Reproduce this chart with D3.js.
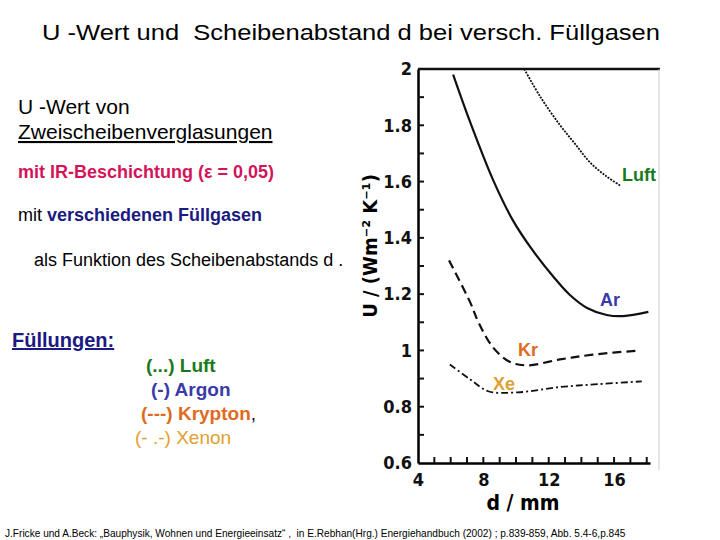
<!DOCTYPE html>
<html>
<head>
<meta charset="utf-8">
<script src="https://cdn.jsdelivr.net/npm/d3@7"></script>
<style>
body { margin: 0; background: #fff; }
svg text { font-family: Arial, "Liberation Sans", sans-serif; white-space: pre; }
.ax text { font-family: "DejaVu Sans Condensed", "Liberation Sans Narrow", sans-serif; font-weight: bold; }
</style>
</head>
<body>
<div id="chart"></div>
<script>
var width = 720,
	height = 540;

// d in mm, U in W/(m2 K)
var luft_d = [10.5, 11.5, 12.7, 13.6, 14.5, 15.5, 16.4],
	luft_u = [2.0, 1.9, 1.8, 1.735, 1.67, 1.62, 1.585];
var argon_d = [6.15, 7.2, 8.6, 9.8, 11.0, 12.3, 13.3, 14.35, 15.55, 16.55, 18.1],
	argon_u = [1.98, 1.81, 1.605, 1.463, 1.357, 1.261, 1.197, 1.151, 1.126, 1.122, 1.137];
var krypton_d = [5.9, 7.2, 7.7, 8.6, 9.6, 10.65, 12.7, 14.7, 17.6],
	krypton_u = [1.32, 1.17, 1.10, 1.01, 0.96, 0.947, 0.968, 0.985, 1.0];
var xenon_d = [5.95, 7.2, 8.3, 10.1, 12.7, 15.0, 17.7],
	xenon_u = [0.95, 0.897, 0.855, 0.851, 0.87, 0.88, 0.89];

var x_ticks = [4, 8, 12, 16],
	y_ticks = [0.6, 0.8, 1, 1.2, 1.4, 1.6, 1.8, 2];

var svg = d3.select("#chart").append("svg")
	.attr("width", width)
	.attr("height", height);

var x = d3.scaleLinear().domain([4, 18.2]).range([418, 650]);
var y = d3.scaleLinear().domain([0.6, 2]).range([463, 69]);

// frame lines
svg.append("line").attr("x1", 418).attr("x2", 660).attr("y1", y(2)).attr("y2", y(2))
	.attr("stroke", "#111").attr("stroke-width", 2.5);
svg.append("line").attr("x1", 659).attr("x2", 659).attr("y1", y(2)).attr("y2", 470)
	.attr("stroke", "#ccc").attr("stroke-width", 1);

var xAxis = svg.append("g").attr("class", "ax")
	.attr("transform", "translate(0," + y(0.6) + ")")
	.call(d3.axisBottom(x).tickValues(x_ticks).tickSize(0).tickPadding(10).tickFormat(d3.format("d")));
xAxis.select(".domain").attr("stroke-width", 2.5);
xAxis.selectAll("text").attr("font-size", 18).attr("fill", "#111");

// minor ticks every mm, inward
svg.append("g").selectAll("line")
	.data(d3.range(5, 19))
	.enter().append("line")
	.attr("x1", function(d) { return x(d); })
	.attr("x2", function(d) { return x(d); })
	.attr("y1", y(0.6))
	.attr("y2", y(0.6) - 6)
	.attr("stroke", "#111").attr("stroke-width", 2);

var yAxis = svg.append("g").attr("class", "ax")
	.attr("transform", "translate(" + x(4) + ",0)")
	.call(d3.axisLeft(y).tickValues(y_ticks).tickSize(0).tickPadding(6).tickFormat(function(d) { return d3.format("")(d); }));
yAxis.select(".domain").attr("stroke-width", 2.5);
yAxis.selectAll("text").attr("font-size", 18).attr("fill", "#111");

svg.append("g").selectAll("line")
	.data(d3.range(0.7, 2.0, 0.1))
	.enter().append("line")
	.attr("x1", x(4))
	.attr("x2", x(4) + 6)
	.attr("y1", function(d) { return y(d); })
	.attr("y2", function(d) { return y(d); })
	.attr("stroke", "#111").attr("stroke-width", 2);

// axis titles
svg.append("text")
	.attr("transform", "translate(377,246) rotate(-90)")
	.attr("text-anchor", "middle")
	.attr("font-size", 20).attr("font-weight", "bold")
	.style("font-family", "'DejaVu Sans Condensed', sans-serif")
	.text("U / (Wm⁻² K⁻¹)");
svg.append("text")
	.attr("x", 523).attr("y", 510)
	.attr("text-anchor", "middle")
	.attr("font-size", 21).attr("font-weight", "bold")
	.style("font-family", "'DejaVu Sans Condensed', sans-serif")
	.text("d / mm");

var line = d3.line()
	.x(function(d) { return x(d[0]); })
	.y(function(d) { return y(d[1]); })
	.curve(d3.curveCatmullRom);

var series = [
	{ d: luft_d, u: luft_u, dash: "2,1.2", w: 1.8 },
	{ d: argon_d, u: argon_u, dash: null, w: 2.2 },
	{ d: krypton_d, u: krypton_u, dash: "9,5", w: 2.2 },
	{ d: xenon_d, u: xenon_u, dash: "7,3,2,3", w: 1.8 }
];

svg.append("g").selectAll("path")
	.data(series)
	.enter().append("path")
	.attr("d", function(s) { return line(d3.zip(s.d, s.u)); })
	.attr("fill", "none")
	.attr("stroke", "#111")
	.attr("stroke-width", function(s) { return s.w; })
	.attr("stroke-dasharray", function(s) { return s.dash; });

// curve labels
var labels = [
	["Luft", 622, 181, "#1a7a1a"],
	["Ar", 600, 306, "#3a3aa8"],
	["Kr", 518, 356, "#e06a20"],
	["Xe", 493, 390, "#e0a030"]
];
svg.append("g").selectAll("text")
	.data(labels)
	.enter().append("text")
	.attr("x", function(d) { return d[1]; })
	.attr("y", function(d) { return d[2]; })
	.attr("fill", function(d) { return d[3]; })
	.attr("font-size", 18).attr("font-weight", "bold")
	.text(function(d) { return d[0]; });

// title and left text block
svg.append("text").attr("x", 42).attr("y", 40)
	.attr("font-size", 22).attr("textLength", 618).attr("lengthAdjust", "spacingAndGlyphs")
	.text("U -Wert und  Scheibenabstand d bei versch. Füllgasen");

svg.append("text").attr("x", 18).attr("y", 114).attr("font-size", 21).text("U -Wert von");
svg.append("text").attr("x", 18).attr("y", 139).attr("font-size", 21)
	.attr("text-decoration", "underline").text("Zweischeibenverglasungen");
svg.append("text").attr("x", 18).attr("y", 178).attr("font-size", 18).attr("font-weight", "bold")
	.attr("fill", "#d4145a").text("mit IR-Beschichtung (ε = 0,05)");
var t = svg.append("text").attr("x", 18).attr("y", 221).attr("font-size", 18);
t.append("tspan").text("mit ");
t.append("tspan").attr("font-weight", "bold").attr("fill", "#1a1a80").text("verschiedenen Füllgasen");
svg.append("text").attr("x", 34).attr("y", 266).attr("font-size", 18).text("als Funktion des Scheibenabstands d .");

svg.append("text").attr("x", 12).attr("y", 347).attr("font-size", 20).attr("font-weight", "bold")
	.attr("fill", "#1a1a80").attr("text-decoration", "underline").text("Füllungen:");

var legend = [
	["(...) ", "Luft", 146, 372, "#1a7a1a", "bold", null],
	["(-) ", "Argon", 151, 396, "#3a3aa8", "bold", null],
	["(---) ", "Krypton", 141, 420, "#e06a20", "bold", ","],
	["(- .-) ", "Xenon", 135, 444, "#e0a030", "normal", null]
];
legend.forEach(function(l) {
	var tx = svg.append("text").attr("x", l[2]).attr("y", l[3]).attr("font-size", 19).attr("fill", l[4]);
	tx.append("tspan").attr("font-weight", l[5]).text(l[0]);
	tx.append("tspan").attr("font-weight", l[5]).text(l[1]);
	if (l[6]) tx.append("tspan").attr("fill", "#111").attr("font-weight", "normal").text(l[6]);
});

svg.append("text").attr("x", 5).attr("y", 537).attr("font-size", 10.1)
	.text("J.Fricke und A.Beck: „Bauphysik, Wohnen und Energieeinsatz“ ,  in E.Rebhan(Hrg.) Energiehandbuch (2002) ; p.839-859, Abb. 5.4-6,p.845");
</script>
</body>
</html>
